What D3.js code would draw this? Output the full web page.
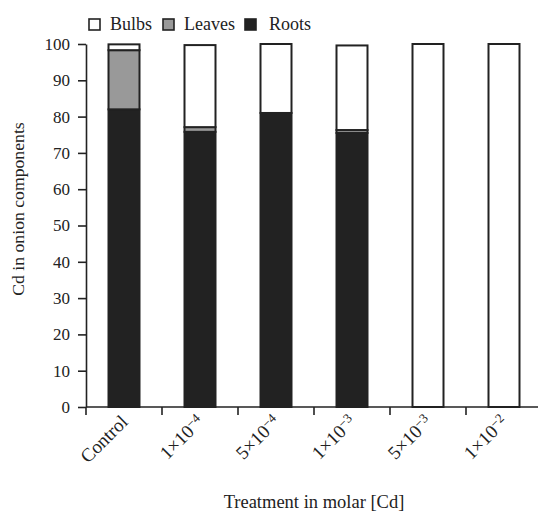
<!DOCTYPE html>
<html><head><meta charset="utf-8">
<script src="https://cdn.jsdelivr.net/npm/d3@7"></script>
<style>body{margin:0;background:#fff;}</style>
</head><body>
<svg id="c" width="541" height="513"></svg>
<script>
const categories = ["Control","1e-4","5e-4","1e-3","5e-3","1e-2"];
const labelBase = ["Control","1×10","5×10","1×10","5×10","1×10"];
const labelExp  = ["","−4","−4","−3","−3","−2"];
const roots  = [82, 75.8, 81, 75.5, 0, 0];
const leaves = [16.3, 1.3, 0, 0.8, 0, 0];
const bulbs  = [1.6, 22.6, 19, 23.3, 100, 100];
const seriesNames = ["Bulbs","Leaves","Roots"];
const seriesColors = {Roots:"#222222", Leaves:"#999999", Bulbs:"#ffffff"};
const yTicks = [0,10,20,30,40,50,60,70,80,90,100];
const FONT = "Liberation Serif";

const svg = d3.select("#c");
const x = d3.scaleBand().domain(categories).range([86, 542]).padding(0);
const y = d3.scaleLinear().domain([0,100]).range([407, 44]);
const barW = 31;

const rows = categories.map((c,i)=>({cat:c, Roots:roots[i], Leaves:leaves[i], Bulbs:bulbs[i]}));
const stack = d3.stack().keys(["Roots","Leaves","Bulbs"]);
const layers = stack(rows);

const g = svg.append("g");
layers.forEach(layer=>{
  g.selectAll(null).data(layer).enter().append("rect")
    .attr("x", d=>x(d.data.cat)+x.bandwidth()/2-barW/2)
    .attr("width", barW)
    .attr("y", d=>y(d[1]))
    .attr("height", d=>Math.max(0, y(d[0])-y(d[1])))
    .attr("fill", seriesColors[layer.key])
    .attr("stroke", "#222").attr("stroke-width", 2);
});

// Y axis
const ya = svg.append("g").attr("transform","translate(86,0)")
  .call(d3.axisLeft(y).tickValues(yTicks).tickSize(8).tickSizeOuter(0).tickPadding(8));
ya.select(".domain").attr("stroke","#222").attr("stroke-width",1.6);
ya.selectAll(".tick line").attr("stroke","#222").attr("stroke-width",1.6);
ya.selectAll(".tick text").attr("fill","#222").style("font-family",FONT).style("font-size","17px");

// X axis
svg.append("line").attr("x1",86).attr("x2",538).attr("y1",407).attr("y2",407)
  .attr("stroke","#222").attr("stroke-width",1.6);
svg.selectAll(null).data(categories).enter().append("line")
  .attr("x1",d=>x(d)).attr("x2",d=>x(d)).attr("y1",407).attr("y2",415)
  .attr("stroke","#222").attr("stroke-width",1.6);

// X labels rotated
const lab = svg.selectAll(null).data(categories).enter().append("text")
  .attr("transform",d=>`translate(${x(d)+x.bandwidth()/2+5},${423}) rotate(-45)`)
  .attr("text-anchor","end").attr("fill","#222")
  .style("font-family",FONT).style("font-size","19px");
lab.each(function(d,i){
  const t = d3.select(this);
  t.append("tspan").text(labelBase[i]);
  if(labelExp[i]) t.append("tspan").attr("dy","-0.45em").style("font-size","13px").text(labelExp[i]);
});

// Axis titles
svg.append("text").attr("x",314).attr("y",508).attr("text-anchor","middle").attr("fill","#222")
  .style("font-family",FONT).style("font-size","18.5px").text("Treatment in molar [Cd]");
svg.append("text").attr("transform","translate(24,209) rotate(-90)").attr("text-anchor","middle").attr("fill","#222")
  .style("font-family",FONT).style("font-size","17.7px").text("Cd in onion components");

// Legend
const legX = [89, 163, 245];
const legTX = [110, 184, 269];
seriesNames.forEach((n,i)=>{
  svg.append("rect").attr("x",legX[i]).attr("y",19).attr("width",11).attr("height",11)
    .attr("fill",seriesColors[n]).attr("stroke","#222").attr("stroke-width",1.6);
  svg.append("text").attr("x",legTX[i]).attr("y",30).attr("fill","#222")
    .style("font-family",FONT).style("font-size","18px").text(n);
});
</script>
</body></html>
